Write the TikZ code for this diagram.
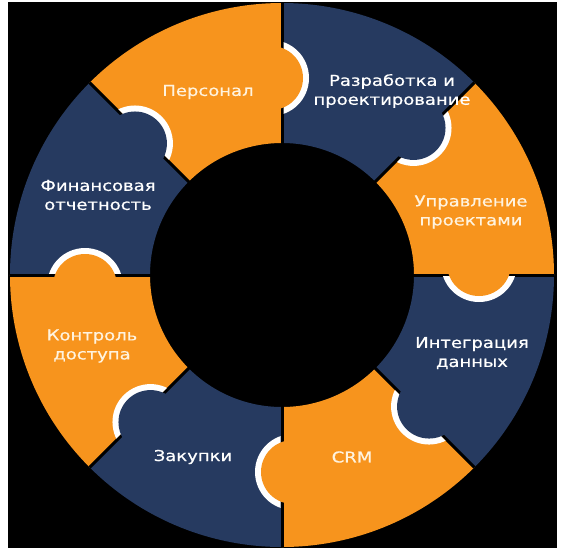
\documentclass[tikz,border=0pt]{standalone}
\usepackage{fontspec}
\setmainfont{DejaVu Sans}[FakeStretch=1.2, FakeBold=0.6]

\definecolor{segorange}{HTML}{F7941D}
\definecolor{segnavy}{HTML}{263A60}
\definecolor{labelcream}{HTML}{FFF3DE}

\tikzset{
  seglabel/.style={align=center, font=\fontsize{15}{19}\selectfont},
  onorange/.style={seglabel, text=labelcream},
  onnavy/.style={seglabel, text=white},
}

\begin{document}
\begin{tikzpicture}[x=1pt,y=1pt]
  \useasboundingbox (-282,-275) rectangle (282,275);
  \fill[black] (-274,-273) rectangle (275,273);

  % ring segments, counter-clockwise from the right
  \foreach \a/\col in {0/segorange,45/segnavy,90/segorange,135/segnavy,
                       180/segorange,225/segnavy,270/segorange,315/segnavy}
    \fill[\col] (\a:132) -- (\a:272)
      arc[start angle=\a, end angle=\a+45, radius=272]
      -- (\a+45:132) arc[start angle=\a+45, end angle=\a, radius=132] -- cycle;

  % gaps between segments
  \foreach \a in {0,45,...,315}
    \draw[black, line width=3] (\a:130) -- (\a:272);

  % puzzle knobs, each one reaching into the next segment clockwise
  \foreach \a/\col in {0/segorange,45/segnavy,90/segorange,135/segnavy,
                       180/segorange,225/segnavy,270/segorange,315/segnavy}
  {
    \begin{scope}[rotate=\a]
      \begin{scope}
        \clip (150,-1.5) -- (250,-1.5) -- (250,-60) -- (150,-60) -- cycle;
        \fill[white] (197,11) circle[radius=38];
      \end{scope}
      \fill[\col] (197,11) circle[radius=32];
    \end{scope}
  }

  % labels
  \node[onorange] (upravlenie) at (189,63) {Управление\\проектами};
  \node[onnavy] (razrabotka) at (110,184) {Разработка и\\проектирование};
  \node[onorange] (personal) at (-74,183) {Персонал};
  \node[onnavy] (finansy) at (-184,80) {Финансовая\\отчетность};
  \node[onorange] (kontrol) at (-190,-71) {Контроль\\доступа};
  \node[onnavy] (zakupki) at (-89,-182) {Закупки};
  \node[onorange] (crm) at (70,-182) {CRM};
  \node[onnavy] (integracia) at (190,-78) {Интеграция\\данных};
\end{tikzpicture}
\end{document}
